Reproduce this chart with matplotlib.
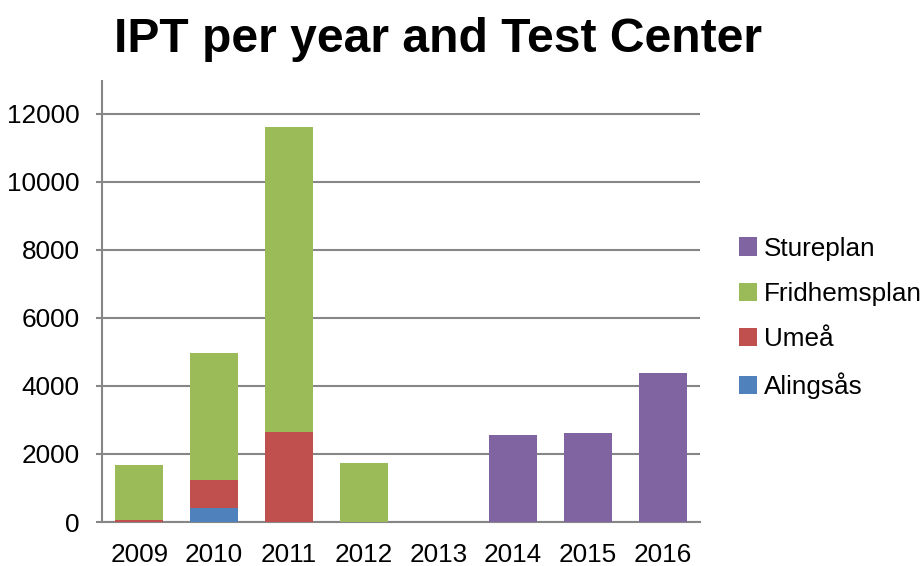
import matplotlib
matplotlib.use("Agg")
import matplotlib.pyplot as plt
import numpy as np

years = ["2009", "2010", "2011", "2012", "2013", "2014", "2015", "2016"]
alingsas = [0, 410, 0, 0, 0, 0, 0, 0]
umea = [50, 830, 2660, 0, 0, 0, 0, 0]
fridhemsplan = [1630, 3740, 8960, 1730, 0, 0, 0, 0]
stureplan = [0, 0, 0, 0, 0, 2550, 2630, 4380]
yticks = [0, 2000, 4000, 6000, 8000, 10000, 12000]

plt.rcParams['font.family'] = ['Liberation Sans', 'DejaVu Sans']

fig = plt.figure(figsize=(9.24, 5.66), dpi=100)
ax = fig.add_axes([102/924, 1-522/566, (700-102)/924, (522-81)/566])

x = np.arange(len(years))
w = 0.64
series = [("Alingsås", alingsas, "#4F81BD"),
          ("Umeå", umea, "#C0504D"),
          ("Fridhemsplan", fridhemsplan, "#9BBB59"),
          ("Stureplan", stureplan, "#8064A2")]
bottom = np.zeros(len(years))
handles = []
for name, vals, col in series:
    v = np.array(vals, dtype=float)
    b = ax.bar(x, v, w, bottom=bottom, color=col, label=name, zorder=3)
    handles.append(b)
    bottom += v

ax.set_xlim(-0.5, len(years) - 0.5)
ax.set_ylim(0, 12970)
ax.set_yticks(yticks)
ax.set_yticklabels([str(t) for t in yticks])
ax.set_xticks(x)
ax.set_xticklabels(years)
ax.yaxis.grid(True, color="#868686", linewidth=1.5, zorder=0)
ax.set_axisbelow(True)
for s in ["top", "right"]:
    ax.spines[s].set_visible(False)
for s in ["left", "bottom"]:
    ax.spines[s].set_color("#868686")
    ax.spines[s].set_linewidth(1.5)
ax.tick_params(axis="y", length=4, color="#868686", width=1.5, pad=12, labelsize=18.8)
ax.tick_params(axis="x", length=0, pad=15, labelsize=18.8)

fig.text(438/924, 1-39/566, "IPT per year and Test Center", ha="center", va="center",
         fontsize=34.6, fontweight="bold")

leg = fig.legend(handles[::-1], [s[0] for s in series[::-1]],
                 loc="center left", bbox_to_anchor=(739/924, 1-318/566),
                 frameon=False, fontsize=18.8, handlelength=0.7, handleheight=0.7,
                 handletextpad=0.25, labelspacing=0.82, borderpad=0, borderaxespad=0)

fig.savefig("out.png", dpi=100)
